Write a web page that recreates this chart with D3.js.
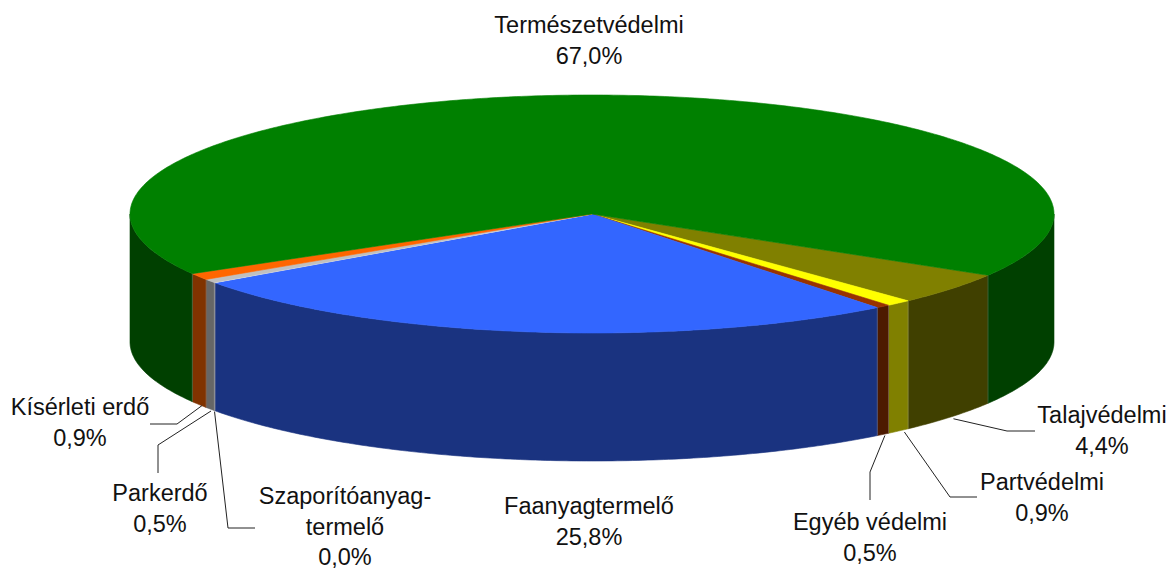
<!DOCTYPE html>
<html>
<head>
<meta charset="utf-8">
<script src="https://cdnjs.cloudflare.com/ajax/libs/d3/7.8.5/d3.min.js"></script>
<style>
  html, body { margin: 0; padding: 0; background: #fff; }
  svg { display: block; }
  text { font-family: "Liberation Sans", Arial, sans-serif; font-size: 23.5px; fill: #111; }
</style>
</head>
<body>
<div id="chart"></div>
<script>
// clockwise, beginning at the Talajvedelmi slice
let categories = ["Talajvédelmi", "Partvédelmi", "Egyéb védelmi", "Faanyagtermelő", "Szaporítóanyag-termelő", "Parkerdő", "Kísérleti erdő", "Természetvédelmi"];
let values = [4.4, 0.9, 0.5, 25.8, 0.04, 0.5, 0.9, 67.0];
let top_colors = ["#808000", "#ffff00", "#993300", "#3366ff", "#f0f0f0", "#c0c0c0", "#ff6600", "#008000"];
let side_colors = ["#404000", "#808000", "#4d1a00", "#1a3380", "#9a9aa8", "#666666", "#803300", "#004000"];

let width = 1170, height = 570;
let cx = 592, cy = 214, rx = 462, ry = 119, depth = 128;

let svg = d3.select("#chart").append("svg")
            .attr("width", width)
            .attr("height", height);

let pie = d3.pie()
            .sort(null)
            .startAngle(31 * Math.PI / 180)
            .endAngle(391 * Math.PI / 180);
let slices = pie(values);

let scaleX = d3.scaleLinear().domain([-1, 1]).range([cx - rx, cx + rx]);
let scaleY = d3.scaleLinear().domain([-1, 1]).range([cy - ry, cy + ry]);
let line = d3.line();

function rim(a, drop) {
  return [scaleX(Math.cos(a)), scaleY(Math.sin(a)) + drop];
}

function arcPoints(a0, a1, drop) {
  let n = Math.max(2, Math.ceil((a1 - a0) * 90));
  return d3.range(n + 1).map(i => rim(a0 + (a1 - a0) * i / n, drop));
}

// side walls: only the part of each slice on the front half of the ellipse
let windows = [[0, Math.PI], [2 * Math.PI, 3 * Math.PI]];
let sides = svg.append("g");
slices.forEach((s, i) => {
  windows.forEach(w => {
    let a0 = Math.max(s.startAngle, w[0]);
    let a1 = Math.min(s.endAngle, w[1]);
    if (a1 <= a0) return;
    let pts = arcPoints(a0, a1, 0).concat(arcPoints(a0, a1, depth).reverse());
    sides.append("path")
         .attr("d", line(pts) + "Z")
         .attr("fill", side_colors[i])
         .attr("stroke", side_colors[i])
         .attr("stroke-width", 0.6);
  });
});

// top face
let tops = svg.append("g");
slices.forEach((s, i) => {
  let pts = [[cx, cy]].concat(arcPoints(s.startAngle, s.endAngle, 0));
  tops.append("path")
      .attr("d", line(pts) + "Z")
      .attr("fill", top_colors[i])
      .attr("stroke", top_colors[i])
      .attr("stroke-width", 0.6);
});

// thin light edges where side walls meet
slices.forEach(s => {
  let a = s.startAngle;
  if (Math.sin(a) <= 0) return;
  svg.append("path")
     .attr("d", line([rim(a, 0), rim(a, depth)]))
     .attr("stroke", "#aaa")
     .attr("stroke-opacity", 0.45)
     .attr("stroke-width", 0.7)
     .attr("fill", "none");
});

// labels, index into categories / values
let fmt = d3.formatLocale({decimal: ",", thousands: " ", grouping: [3], currency: ["", ""]}).format(".1f");
let labels = [
  {i: 7, x: 589, y: 33, lines: ["Természetvédelmi"]},
  {i: 0, x: 1102, y: 423, lines: ["Talajvédelmi"]},
  {i: 1, x: 1042, y: 490, lines: ["Partvédelmi"]},
  {i: 2, x: 870, y: 530, lines: ["Egyéb védelmi"]},
  {i: 3, x: 589, y: 514, lines: ["Faanyagtermelő"]},
  {i: 4, x: 345, y: 504, lines: ["Szaporítóanyag-", "termelő"]},
  {i: 5, x: 160, y: 501, lines: ["Parkerdő"]},
  {i: 6, x: 80, y: 415, lines: ["Kísérleti erdő"]}
];
let line_step = 30.5;

labels.forEach(l => {
  let t = svg.append("text").attr("text-anchor", "middle");
  l.lines.concat([fmt(values[l.i]) + "%"]).forEach((str, k) => {
    t.append("tspan")
     .attr("x", l.x)
     .attr("y", l.y + k * line_step)
     .text(str);
  });
});

// leader lines, from the slice's rim out to the label
let leaders = [
  {i: 0, off: [2, 2], elbows: [[1007, 431], [1035, 431]]},
  {i: 1, off: [6, 1], elbows: [[950, 497], [977, 497]]},
  {i: 2, off: [2, 1], elbows: [[870, 472], [870, 500]]},
  {i: 4, off: [0, 1], elbows: [[228, 528], [255, 528]]},
  {i: 5, off: [1, 2], elbows: [[158, 445], [158, 473]]},
  {i: 6, off: [3, 1], elbows: [[177, 424], [150, 424]]}
];
leaders.forEach(d => {
  let s = slices[d.i];
  let p = rim((s.startAngle + s.endAngle) / 2, depth);
  svg.append("path")
     .attr("d", line([[p[0] + d.off[0], p[1] + d.off[1]]].concat(d.elbows)))
     .attr("fill", "none")
     .attr("stroke", "#222")
     .attr("stroke-width", 1);
});
</script>
</body>
</html>
